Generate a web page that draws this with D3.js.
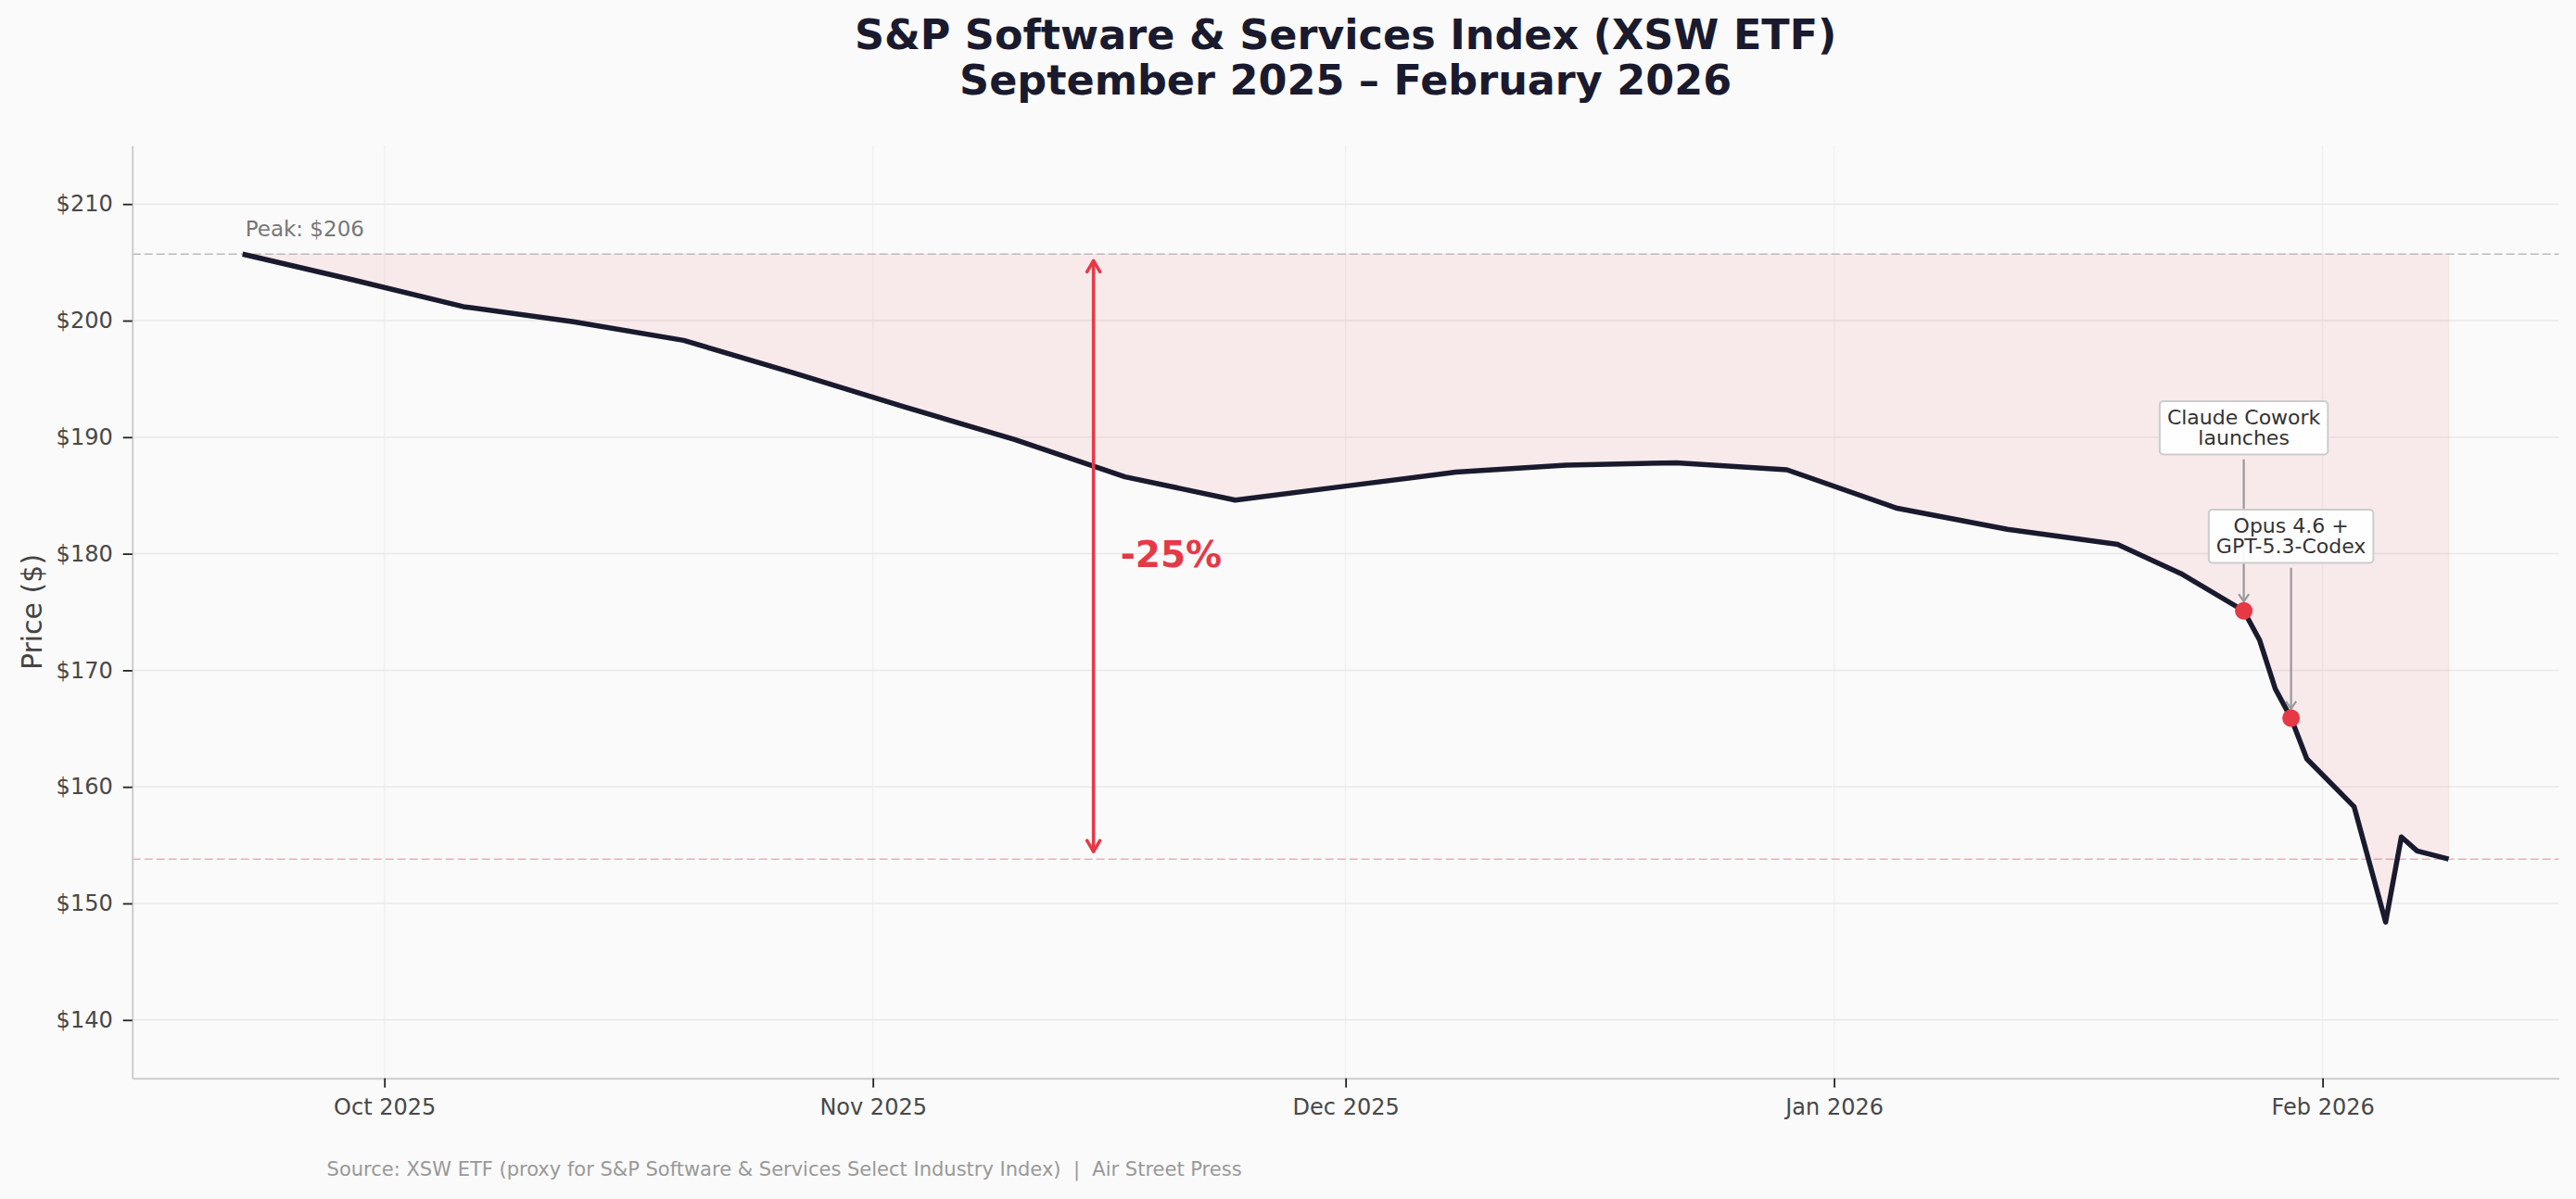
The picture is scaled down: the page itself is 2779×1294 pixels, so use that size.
<!DOCTYPE html>
<html>
<head>
<meta charset="utf-8">
<script src="https://cdn.jsdelivr.net/npm/d3@7"></script>
<style>
  body { margin: 0; background: #fafafa; }
  text { font-family: "DejaVu Sans", sans-serif; }
</style>
</head>
<body>
<svg id="chart"></svg>
<script>
// weekly closes, then daily through the late-January selloff
const dates = [
  "2025-09-22", "2025-09-29", "2025-10-06", "2025-10-13", "2025-10-20", "2025-10-27",
  "2025-11-03", "2025-11-10", "2025-11-17", "2025-11-24", "2025-12-01", "2025-12-08",
  "2025-12-15", "2025-12-22", "2025-12-29", "2026-01-05", "2026-01-12", "2026-01-19",
  "2026-01-23", "2026-01-27", "2026-01-28", "2026-01-29", "2026-01-30", "2026-01-31",
  "2026-02-03", "2026-02-05", "2026-02-06", "2026-02-07", "2026-02-09"
];
const prices = [
  205.7, 203.5, 201.2, 199.9, 198.3, 195.5,
  192.6, 189.8, 186.6, 184.6, 185.8, 187.0,
  187.6, 187.8, 187.2, 183.9, 182.1, 180.8,
  178.3, 175.1, 172.6, 168.4, 165.9, 162.4,
  158.3, 148.4, 155.7, 154.5, 153.8
];
const eventDates = ["2026-01-27", "2026-01-30"];
const eventLabels = [["Claude Cowork", "launches"], ["Opus 4.6 +", "GPT-5.3-Codex"]];
const yTicks = [140, 150, 160, 170, 180, 190, 200, 210];

const titleLines = ["S&P Software & Services Index (XSW ETF)", "September 2025 \u2013 February 2026"];
const sourceText = "Source: XSW ETF (proxy for S&P Software & Services Select Industry Index)  |  Air Street Press";

function drawChart() {
  const width = 2779;
  const height = 1294;
  const left = 142.7, right = 2760.6, top = 157.3, bottom = 1163.7;

  const parse = d3.utcParse("%Y-%m-%d");
  const data = dates.map((d, i) => ({ date: parse(d), price: prices[i] }));

  const peak = d3.max(prices);
  const last = prices[prices.length - 1];
  const drop = Math.round((last / peak - 1) * 100);

  const svg = d3.select('#chart')
    .attr('width', width)
    .attr('height', height)
    .style('background', '#fafafa');

  // 5% padding either side of the data, like the original
  const ext = d3.extent(data, d => d.date);
  const pad = (ext[1] - ext[0]) * 0.05;
  const x = d3.scaleUtc()
    .domain([new Date(+ext[0] - pad), new Date(+ext[1] + pad)])
    .range([left, right]);

  const y = d3.scaleLinear()
    .domain([135, 215])
    .range([bottom, top]);

  const months = x.ticks(d3.utcMonth.every(1));

  // grid
  svg.append('g').selectAll('line')
    .data(months)
    .enter()
    .append('line')
    .attr('x1', d => x(d)).attr('x2', d => x(d))
    .attr('y1', top).attr('y2', bottom)
    .style('stroke', '#f0f0f0')
    .style('stroke-width', 1.5);

  svg.append('g').selectAll('line')
    .data(yTicks)
    .enter()
    .append('line')
    .attr('x1', left).attr('x2', right)
    .attr('y1', d => y(d)).attr('y2', d => y(d))
    .style('stroke', '#e9e9e9')
    .style('stroke-width', 1.5);

  // drawdown area between peak and price
  const area = d3.area()
    .x(d => x(d.date))
    .y0(y(peak))
    .y1(d => y(d.price));

  svg.append('path')
    .datum(data)
    .attr('d', area)
    .style('fill', '#e63946')
    .style('fill-opacity', 0.08)
    .style('stroke', '#e63946')
    .style('stroke-opacity', 0.06)
    .style('stroke-width', 1.5);

  // reference lines
  svg.append('line')
    .attr('x1', left).attr('x2', right)
    .attr('y1', y(peak)).attr('y2', y(peak))
    .style('stroke', '#bbbbbb')
    .style('stroke-width', 1.6)
    .style('stroke-dasharray', '9,4');

  svg.append('line')
    .attr('x1', left).attr('x2', right)
    .attr('y1', y(last)).attr('y2', y(last))
    .style('stroke', '#e63946')
    .style('stroke-opacity', 0.4)
    .style('stroke-width', 1.6)
    .style('stroke-dasharray', '9,4');

  svg.append('text')
    .attr('x', x(data[0].date) + 3)
    .attr('y', y(peak) - 19)
    .style('font-size', '23px')
    .style('fill', '#777')
    .text(`Peak: $${Math.round(peak)}`);

  // price line
  const line = d3.line()
    .x(d => x(d.date))
    .y(d => y(d.price));

  svg.append('path')
    .datum(data)
    .attr('d', line)
    .style('fill', 'none')
    .style('stroke', '#1a1a2e')
    .style('stroke-width', 5.5)
    .style('stroke-linejoin', 'round');

  // event markers + callouts
  const events = eventDates.map((d, i) => {
    const dt = parse(d);
    const p = data.find(e => +e.date === +dt).price;
    return { date: dt, price: p, label: eventLabels[i] };
  });
  const labelValues = [190.8, 181.5];

  events.forEach((ev, i) => {
    const cx = x(ev.date);
    const cy = y(labelValues[i]);
    const g = svg.append('g');

    const arrowTop = cy + 34;
    const tip = y(ev.price) - 10;
    g.append('line')
      .attr('x1', cx).attr('x2', cx)
      .attr('y1', arrowTop).attr('y2', tip)
      .style('stroke', '#999')
      .style('stroke-width', 2.2);
    g.append('path')
      .attr('d', `M${cx - 5.5},${tip - 8}L${cx},${tip}L${cx + 5.5},${tip - 8}`)
      .style('fill', 'none')
      .style('stroke', '#999')
      .style('stroke-width', 2.2);
  });

  events.forEach((ev, i) => {
    const cx = x(ev.date);
    const cy = y(labelValues[i]);
    const g = svg.append('g');
    const box = g.append('rect');
    const t = g.append('text')
      .attr('text-anchor', 'middle')
      .style('font-size', '22px')
      .style('fill', '#333');
    t.selectAll('tspan')
      .data(ev.label)
      .enter()
      .append('tspan')
      .attr('x', cx)
      .attr('y', (d, j) => cy - 4 + j * 22.4)
      .text(d => d);
    const w = d3.max(t.selectAll('tspan').nodes(), n => n.getComputedTextLength());
    box.attr('x', cx - w / 2 - 8)
      .attr('y', cy - 28.7)
      .attr('width', w + 16)
      .attr('height', 57.4)
      .attr('rx', 4)
      .style('fill', 'white')
      .style('fill-opacity', 0.92)
      .style('stroke', '#cccccc')
      .style('stroke-width', 2);
  });

  svg.append('g').selectAll('circle')
    .data(events)
    .enter()
    .append('circle')
    .attr('cx', d => x(d.date))
    .attr('cy', d => y(d.price))
    .attr('r', 9.5)
    .style('fill', '#e63946');

  // drawdown arrow
  const ax = x(parse("2025-11-15"));
  const aTop = y(peak) + 7;
  const aBot = y(last) - 8;
  svg.append('line')
    .attr('x1', ax).attr('x2', ax)
    .attr('y1', aTop).attr('y2', aBot)
    .style('stroke', '#e63946')
    .style('stroke-width', 3.6);
  svg.append('path')
    .attr('d', `M${ax - 7},${aTop + 12}L${ax},${aTop}L${ax + 7},${aTop + 12}` +
               `M${ax - 7},${aBot - 12}L${ax},${aBot}L${ax + 7},${aBot - 12}`)
    .style('fill', 'none')
    .style('stroke', '#e63946')
    .style('stroke-width', 3.6)
    .style('stroke-linecap', 'round')
    .style('stroke-linejoin', 'round');

  svg.append('text')
    .attr('x', ax + 29)
    .attr('y', y(180) + 14.5)
    .style('font-size', '39px')
    .style('font-weight', 'bold')
    .style('fill', '#e63946')
    .text(`${drop}%`);

  // axes
  const yAxis = svg.append('g')
    .attr('transform', `translate(${left},0)`)
    .call(d3.axisLeft(y).tickValues(yTicks).tickFormat(d => '$' + d)
      .tickSize(10).tickSizeOuter(0).tickPadding(11));

  const xAxis = svg.append('g')
    .attr('transform', `translate(0,${bottom})`)
    .call(d3.axisBottom(x).tickValues(months).tickFormat(d3.utcFormat('%b %Y'))
      .tickSize(10).tickSizeOuter(0).tickPadding(12));

  [yAxis, xAxis].forEach(a => {
    a.select('.domain').style('stroke', '#cccccc').style('stroke-width', 2);
    a.selectAll('.tick line').style('stroke', '#222').style('stroke-width', 1.8);
    a.selectAll('.tick text')
      .style('font-family', '"DejaVu Sans", sans-serif')
      .style('font-size', '24px')
      .style('fill', '#484848');
  });

  svg.append('text')
    .attr('transform', `translate(45,${(top + bottom) / 2}) rotate(-90)`)
    .attr('text-anchor', 'middle')
    .style('font-size', '30px')
    .style('fill', '#444')
    .text('Price ($)');

  // title + source
  svg.append('text')
    .attr('text-anchor', 'middle')
    .style('font-size', '44.5px')
    .style('font-weight', 'bold')
    .style('fill', '#1a1a2e')
    .selectAll('tspan')
    .data(titleLines)
    .enter()
    .append('tspan')
    .attr('x', (left + right) / 2)
    .attr('y', (d, i) => 53 + i * 49)
    .text(d => d);

  svg.append('text')
    .attr('x', 352.6)
    .attr('y', 1269)
    .style('font-size', '21px')
    .style('fill', '#999')
    .style('white-space', 'pre')
    .attr('xml:space', 'preserve')
    .text(sourceText);
}

window.onload = function () {
  drawChart();
};
</script>
</body>
</html>
